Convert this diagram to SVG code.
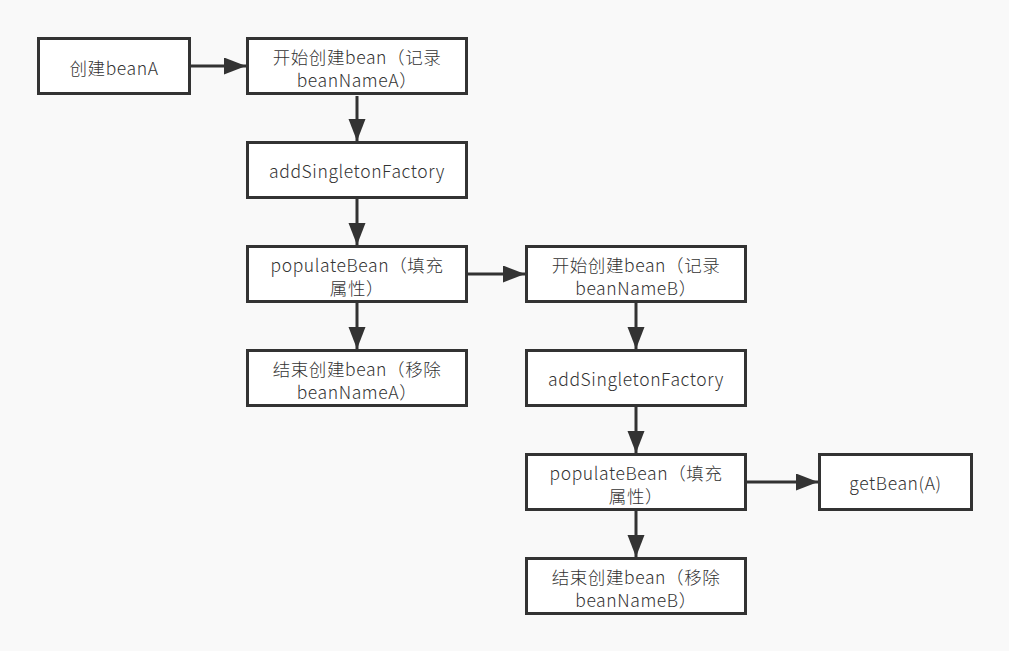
<svg xmlns="http://www.w3.org/2000/svg" width="1009" height="651" viewBox="0 0 1009 651">
<style>
.box{fill:#ffffff;stroke:#333333;stroke-width:3}
.t{font-family:"Noto Sans CJK SC","Microsoft YaHei",sans-serif;font-size:17.5px;font-weight:300;letter-spacing:0.6px;fill:#333333;text-anchor:middle}
.c{stroke:#333333;stroke-width:3;fill:none;marker-end:url(#ah)}
</style>
<defs>
<marker id="ah" markerUnits="userSpaceOnUse" markerWidth="24" markerHeight="18" refX="22" refY="8.5" orient="auto">
<path d="M0,0 L22,8.5 L0,17 Z" fill="#333333"/>
</marker>
</defs>
<rect width="1009" height="651" fill="#f9f9f9"/>
<g id="connectors">
<line class="c" x1="191" y1="66" x2="246" y2="66"/>
<line class="c" x1="357" y1="96" x2="357" y2="141"/>
<line class="c" x1="357" y1="199" x2="357" y2="245"/>
<line class="c" x1="468" y1="274" x2="525" y2="274"/>
<line class="c" x1="357" y1="303" x2="357" y2="349"/>
<line class="c" x1="636" y1="303" x2="636" y2="349"/>
<line class="c" x1="636" y1="407" x2="636" y2="453"/>
<line class="c" x1="747" y1="482" x2="818" y2="482"/>
<line class="c" x1="636" y1="511" x2="636" y2="557"/>
</g>
<g id="n1"><rect class="box" x="38.5" y="38.5" width="151" height="55"/><text class="t" x="114" y="75">创建beanA</text></g>
<g id="n2"><rect class="box" x="247.5" y="38.5" width="219" height="55"/><text class="t" x="357" y="64">开始创建bean（记录</text><text class="t" x="357" y="87">beanNameA）</text></g>
<g id="n3"><rect class="box" x="247.5" y="142.5" width="219" height="55"/><text class="t" x="357" y="178">addSingletonFactory</text></g>
<g id="n4"><rect class="box" x="247.5" y="246.5" width="219" height="55"/><text class="t" x="357" y="272">populateBean（填充</text><text class="t" x="357" y="295">属性）</text></g>
<g id="n5"><rect class="box" x="247.5" y="350.5" width="219" height="55"/><text class="t" x="357" y="376">结束创建bean（移除</text><text class="t" x="357" y="399">beanNameA）</text></g>
<g id="n6"><rect class="box" x="526.5" y="246.5" width="219" height="55"/><text class="t" x="636" y="272">开始创建bean（记录</text><text class="t" x="636" y="295">beanNameB）</text></g>
<g id="n7"><rect class="box" x="526.5" y="350.5" width="219" height="55"/><text class="t" x="636" y="386">addSingletonFactory</text></g>
<g id="n8"><rect class="box" x="526.5" y="454.5" width="219" height="55"/><text class="t" x="636" y="480">populateBean（填充</text><text class="t" x="636" y="503">属性）</text></g>
<g id="n9"><rect class="box" x="819.5" y="454.5" width="152" height="55"/><text class="t" x="895.5" y="490">getBean(A)</text></g>
<g id="n10"><rect class="box" x="526.5" y="558.5" width="219" height="55"/><text class="t" x="636" y="584">结束创建bean（移除</text><text class="t" x="636" y="607">beanNameB）</text></g>
</svg>
